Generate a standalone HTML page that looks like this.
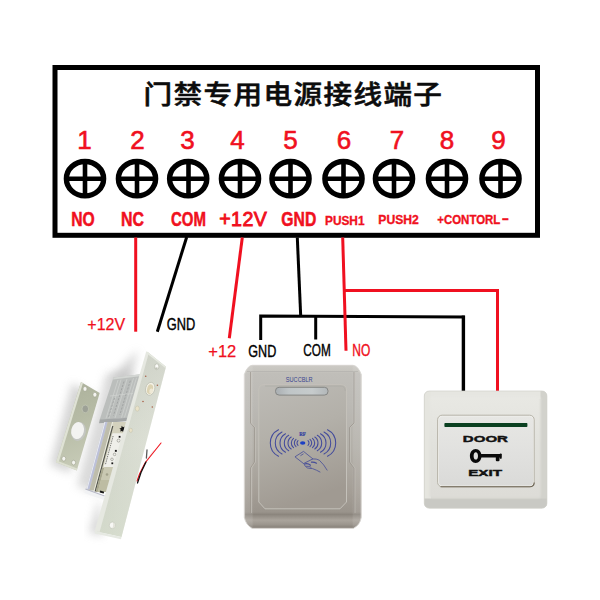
<!DOCTYPE html>
<html lang="zh">
<head>
<meta charset="utf-8">
<title>门禁专用电源接线端子</title>
<style>
html,body{margin:0;padding:0;background:#fff;}
body{width:600px;height:600px;overflow:hidden;}
svg{display:block;}
.lat{font-family:"Liberation Sans",sans-serif;}
.cjk{font-family:"Liberation Sans","Noto Sans CJK SC",sans-serif;}
</style>
</head>
<body>
<svg width="600" height="600" viewBox="0 0 600 600">
<rect width="600" height="600" fill="#fff"/>

<!-- ===== terminal box ===== -->
<g id="box">
<rect x="55" y="67.5" width="482.5" height="167.8" fill="#fff" stroke="#000" stroke-width="5"/>
<text class="cjk" transform="translate(143.6 104.2) scale(1.1 1)" font-size="26" font-weight="500" letter-spacing="1.25" fill="#0c0c0c" stroke="#0c0c0c" stroke-width="0.55">门禁专用电源接线端子</text>
</g>

<!-- digits -->
<g class="lat" font-size="26" fill="#f01020" text-anchor="middle" stroke="#f01020" stroke-width="0.6">
<text x="84.5" y="148.6">1</text>
<text x="137.5" y="148.6">2</text>
<text x="187.5" y="148.6">3</text>
<text x="237.5" y="148.6">4</text>
<text x="290.5" y="148.6">5</text>
<text x="344" y="148.6">6</text>
<text x="397" y="148.6">7</text>
<text x="447" y="148.6">8</text>
<text x="498.5" y="148.6">9</text>
</g>

<!-- screws -->
<g id="screws" fill="none" stroke="#000">
<g stroke-width="5.4">
<ellipse cx="85" cy="178.7" rx="18.6" ry="17.2"/>
<ellipse cx="137" cy="178.7" rx="18.6" ry="17.2"/>
<ellipse cx="188.2" cy="178.7" rx="18.6" ry="17.2"/>
<ellipse cx="240" cy="178.7" rx="18.6" ry="17.2"/>
<ellipse cx="290.5" cy="178.7" rx="18.6" ry="17.2"/>
<ellipse cx="343.5" cy="178.7" rx="18.6" ry="17.2"/>
<ellipse cx="394" cy="178.7" rx="18.6" ry="17.2"/>
<ellipse cx="447" cy="178.7" rx="18.6" ry="17.2"/>
<ellipse cx="500.5" cy="178.7" rx="18.6" ry="17.2"/>
</g>
<g stroke-width="4.6">
<path d="M67 178.7H103M85 161.7V195.7"/>
<path d="M119 178.7H155M137 161.7V195.7"/>
<path d="M170.5 178.7H206.5M188.5 161.7V195.7"/>
<path d="M222 178.7H258M240 161.7V195.7"/>
<path d="M272.5 178.7H308.5M290.5 161.7V195.7"/>
<path d="M325.5 178.7H361.5M343.5 161.7V195.7"/>
<path d="M376 178.7H412M394 161.7V195.7"/>
<path d="M429 178.7H465M447 161.7V195.7"/>
<path d="M482.5 178.7H518.5M500.5 161.7V195.7"/>
</g></g>

<!-- terminal labels -->
<g class="lat" font-weight="700" fill="#f01020" lengthAdjust="spacingAndGlyphs">
<text x="71.3" y="225.6" font-size="19.3" stroke="#f01020" stroke-width="0.5" textLength="23.5" lengthAdjust="spacingAndGlyphs">NO</text>
<text x="121" y="225.6" font-size="19.3" stroke="#f01020" stroke-width="0.5" textLength="23" lengthAdjust="spacingAndGlyphs">NC</text>
<text x="171" y="225.6" font-size="19.3" stroke="#f01020" stroke-width="0.5" textLength="35" lengthAdjust="spacingAndGlyphs">COM</text>
<text x="219.2" y="226" font-size="19.6" font-weight="400" stroke="#f01020" stroke-width="0.9" textLength="47.6" lengthAdjust="spacing">+12V</text>
<text x="281.3" y="225.6" font-size="19.3" stroke="#f01020" stroke-width="0.5" textLength="35" lengthAdjust="spacingAndGlyphs">GND</text>
<text x="325" y="224.8" font-size="12.2" stroke="#f01020" stroke-width="0.35" textLength="39.5" lengthAdjust="spacingAndGlyphs">PUSH1</text>
<text x="378.3" y="224" font-size="12.2" stroke="#f01020" stroke-width="0.35" textLength="40.5" lengthAdjust="spacingAndGlyphs">PUSH2</text>
<text x="437.3" y="223.6" font-size="12.2" stroke="#f01020" stroke-width="0.35" textLength="63" lengthAdjust="spacingAndGlyphs">+CONTORL</text>
<text x="501.8" y="222.8" font-size="12.2" stroke="#f01020" stroke-width="0.35" textLength="7.2" lengthAdjust="spacingAndGlyphs">-</text>
</g>

<!-- wires -->
<g id="wires" fill="none" stroke-width="3" stroke-linecap="butt">
<path d="M135.700 237.500V331.700" stroke="#f01020"/>
<path d="M186.700 237L157.300 331.700" stroke="#000"/>
<path d="M242.300 237.500L229.300 338.300" stroke="#f01020"/>
<path d="M297.300 237.500L300.700 316" stroke="#000"/>
<path d="M260.700 340V315.900L464.800 317.100" stroke="#000"/>
<path d="M315.700 316.200V339.500" stroke="#000"/>
<path d="M463.400 315.600V391.500" stroke="#000" stroke-width="3.4"/>
<path d="M342.700 237.500L346 350.700" stroke="#f01020"/>
<path d="M344.500 290.400H497.500V391.500" stroke="#f01020"/>
</g>

<!-- wire labels -->
<g class="lat" lengthAdjust="spacingAndGlyphs">
<text x="87.300" y="329.500" font-size="16.800" fill="#f01020" stroke="#f01020" stroke-width="0.25" textLength="37.800" lengthAdjust="spacingAndGlyphs">+12V</text>
<text x="166.700" y="329.500" font-size="16.800" fill="#000" stroke="#000" stroke-width="0.4" textLength="28.500" lengthAdjust="spacingAndGlyphs">GND</text>
<text x="208.300" y="357.300" font-size="16.800" fill="#f01020" stroke="#f01020" stroke-width="0.25" textLength="28" lengthAdjust="spacingAndGlyphs">+12</text>
<text x="248.300" y="356.700" font-size="16.800" fill="#000" stroke="#000" stroke-width="0.4" textLength="28" lengthAdjust="spacingAndGlyphs">GND</text>
<text x="303.300" y="356" font-size="16.800" fill="#000" stroke="#000" stroke-width="0.4" textLength="27.500" lengthAdjust="spacingAndGlyphs">COM</text>
<text x="352.300" y="356" font-size="16.800" fill="#f01020" stroke="#f01020" stroke-width="0.4" textLength="18" lengthAdjust="spacingAndGlyphs">NO</text>
</g>

<!-- DEVICES -->
<!-- ===== electric bolt lock ===== -->
<defs>
<filter id="lkBlur4" x="-30%" y="-30%" width="160%" height="160%"><feGaussianBlur stdDeviation="4"/></filter>
<filter id="lkBlur2" x="-30%" y="-30%" width="160%" height="160%"><feGaussianBlur stdDeviation="2"/></filter>
<filter id="lkBlur05" x="-10%" y="-10%" width="120%" height="120%"><feGaussianBlur stdDeviation="0.5"/></filter>
<linearGradient id="lkFace" x1="0" y1="0" x2="1" y2="0.250">
<stop offset="0" stop-color="#cfd3c7"/>
<stop offset="0.5" stop-color="#d9ddd2"/>
<stop offset="1" stop-color="#e1e4da"/>
</linearGradient>
<linearGradient id="lkFaceV" x1="0" y1="0" x2="0" y2="1">
<stop offset="0" stop-color="#bfc2b8" stop-opacity="0.45"/>
<stop offset="0.5" stop-color="#c8ccc0" stop-opacity="0.1"/>
<stop offset="1" stop-color="#d3dbc9" stop-opacity="0.5"/>
</linearGradient>
<linearGradient id="lkStrike" x1="0" y1="0" x2="0.200" y2="1">
<stop offset="0" stop-color="#abb09a"/>
<stop offset="0.500" stop-color="#b6bba5"/>
<stop offset="1" stop-color="#c6cab6"/>
</linearGradient>
<linearGradient id="lkChrome" x1="0" y1="0" x2="1" y2="0.250">
<stop offset="0" stop-color="#d8dbe0"/>
<stop offset="0.250" stop-color="#f4f5f6"/>
<stop offset="0.450" stop-color="#9a9c98"/>
<stop offset="0.600" stop-color="#d6d4c4"/>
<stop offset="1" stop-color="#c2c0ae"/>
</linearGradient>
</defs>
<g id="lock">
<!-- soft shadows -->
<path d="M78 380L56 462L76 470L98 392Z" transform="translate(-6 3)" fill="#c4c4c4" opacity="0.700" filter="url(#lkBlur4)"/>
<path d="M113 378L140 374L104 498L84 490Z" transform="translate(-7 -4)" fill="#c4c4c4" opacity="0.620" filter="url(#lkBlur4)"/>
<path d="M106 497L96 533L110 536Z" transform="translate(-7 0)" fill="#c6c6c6" opacity="0.700" filter="url(#lkBlur4)"/>
<path d="M146 352L136 392L118 380Z" transform="translate(-8 -2)" fill="#c2c2c2" opacity="0.700" filter="url(#lkBlur4)"/>
<!-- strike plate -->
<path d="M81 381.900L99.700 393L76.800 470.400L56 462.300Z" fill="url(#lkStrike)"/>
<path d="M81 381.900L83 383L58.300 463.200L56 462.300Z" fill="#dfe2d5"/>
<path d="M56 462.300L76.800 470.400L77.300 468.600L56.600 460.600Z" fill="#dcdfd0"/>
<g fill="#f4f4f0" stroke="#9fa38f" stroke-width="0.600">
<ellipse cx="85" cy="388.900" rx="2" ry="2.400"/>
<ellipse cx="94.900" cy="394.700" rx="2" ry="2.400"/>
<ellipse cx="63.800" cy="458.700" rx="2" ry="2.400"/>
<ellipse cx="73.600" cy="462.600" rx="2" ry="2.400"/>
</g>
<ellipse cx="85.300" cy="408.900" rx="3.300" ry="3.900" fill="#9da196" stroke="#c6cab8" stroke-width="0.700"/>
<ellipse cx="78.500" cy="431.400" rx="7.300" ry="9.600" transform="rotate(12 78.500 431.400)" fill="#c4c6c2"/>
<ellipse cx="77.600" cy="430.600" rx="6.300" ry="8.600" transform="rotate(12 77.600 430.600)" fill="#f3f3f1"/>
<!-- lock body -->
<path d="M113.500 377.500L140.500 374.300L128 418L99.600 420Z" fill="#bbbebc"/>
<path d="M113.500 377.500L140.500 374.300L140 376.200L113 379.500Z" fill="#d3d6d3"/>
<g stroke="#d4d7d4" stroke-width="0.700" fill="none" opacity="0.900">
<path d="M118 380L106 418.500"/><path d="M121 379.600L109 418.300"/><path d="M127 379L115 418"/><path d="M133.500 378.200L121.500 417.600"/><path d="M136.500 377.800L124.500 417.400"/>
<path d="M110 396L133 393.500"/>
</g>
<g stroke="#8f9292" stroke-width="0.800" fill="none" opacity="0.750" stroke-dasharray="2.200 1.300">
<path d="M124 381.500L113.500 415.500"/><path d="M130.300 380.700L119.800 414.900"/><path d="M114.500 398L108.500 417"/>
</g>
<path d="M99.800 419.600L128 417.800L127 421.200L99 423.200Z" fill="#a4a7a7"/>
<!-- chrome bolt housing -->
<path d="M104.5 422L130.5 422L112.3 490L86.3 490Z" fill="#d3d1bd"/>
<path d="M104.5 422L107.7 422L89.6 489.5L86.4 489.5Z" fill="#bcc0d8"/>
<path d="M104.5 422L105.4 422L87.3 489.5L86.4 489.5Z" fill="#eceef5"/>
<path d="M107.7 422L112.1 422L93.8 490.5L89.4 490.5Z" fill="#bebdac"/>
<path d="M112.1 422L113.2 422L94.7 491L93.6 491Z" fill="#e9e9de"/>
<path d="M112.2 426L113.4 426L95.8 491.5L94.6 491.5Z" fill="#51534c"/>
<path d="M102.1 468L104.2 468L97.7 492L95.6 492Z" fill="#a9a88f"/>
<path d="M112.5 433.3L127.5 433.3L118.5 467L103.5 467Z" fill="#efefea"/>
<path d="M113.1 436L105.3 465" fill="none" stroke="#6d6d66" stroke-width="0.9" stroke-dasharray="1.4 0.9"/>
<path d="M121.700 425.800l1.300 1.500l1.800 -0.700l-0.600 1.900l1.500 1.200l-1.900 0.500l-0.300 2l-1.500 -1.300l-1.900 0.700l0.700 -1.800l-1.400 -1.400l1.900 -0.300z" fill="#141414"/>
<g fill="#1a1a1a"><rect x="118.700" y="435.900" width="1.800" height="1.800"/><rect x="114.900" y="449.900" width="1.900" height="1.900"/><rect x="111.400" y="462.400" width="1.800" height="1.800"/></g>
<g fill="none" stroke="#77776f" stroke-width="0.500"><circle cx="118.600" cy="440.600" r="1.500"/><circle cx="114.600" cy="454.400" r="1.300"/><circle cx="112" cy="459.300" r="1.300"/></g>
<path d="M104.5 467L118.5 467L115.0 480L101.0 480Z" fill="#c9c8b2"/>
<path d="M101.0 480L115.0 480L111.7 492L97.7 492Z" fill="#bdbca3"/>
<circle cx="107" cy="474.500" r="1.300" fill="#a3a28c"/>
<path d="M85.200 489.500L104.500 496.500L103.600 500L84.400 493Z" fill="#f1f2f4"/>
<path d="M85.200 489.500L104.500 496.500L104.700 495.500L85.500 488.500Z" fill="#b6b8c6"/>
<path d="M100.200 490.600L104.200 491.800L103.700 493.600L99.700 492.400Z" fill="#161616"/>
<!-- wires -->
<g fill="none" stroke-linecap="round">
<path d="M153.500 451L147 460" stroke="#eeeeee" stroke-width="1.300"/>
<path d="M147 450L146.400 458" stroke="#5a5a5a" stroke-width="1.300"/>
<path d="M161 443L145 463L139.500 474L137 481" stroke="#f0141e" stroke-width="1.100"/>
<path d="M146 462L141 472.500L137.500 483" stroke="#111" stroke-width="1.300"/>
</g>
<!-- face plate -->
<path d="M147.300 351.700L166 366.700L121.500 537L97 531.500Z" fill="url(#lkFace)"/>
<path d="M147.300 351.700L166 366.700L121.500 537L97 531.500Z" fill="url(#lkFaceV)"/>
<path d="M146.300 351.300L148.800 352.900L99.600 532.100L94.600 531.200Z" fill="#e6e8e1"/>
<path d="M147.300 351.700L166 366.700L165.600 368.300L146.900 353.400Z" fill="#e6e9e0"/>
<path d="M95 531.200L121.500 537L121 539.200L94.800 533.500Z" fill="#e6e9e2"/>
<!-- face plate details -->
<ellipse cx="156.700" cy="366.800" rx="2.300" ry="2.900" fill="#e9e9e4" stroke="#b4b8aa" stroke-width="0.600"/>
<ellipse cx="156.900" cy="365.900" rx="1.300" ry="1.400" fill="#fbfbf8"/>
<ellipse cx="156.300" cy="368.400" rx="1.200" ry="1" fill="#bfc2b6"/>
<ellipse cx="150.200" cy="388.800" rx="4.600" ry="6.600" transform="rotate(14 150.200 388.800)" fill="#f3f1e6" stroke="#bfc2b4" stroke-width="0.800"/>
<ellipse cx="150" cy="389.200" rx="2.900" ry="4.900" transform="rotate(14 150 389.200)" fill="#dcd3b3"/>
<ellipse cx="151.200" cy="391" rx="1.900" ry="2.600" transform="rotate(14 151.200 391)" fill="#efe9d6"/>
<g fill="#a8624a">
<circle cx="145.700" cy="376.300" r="0.800"/><circle cx="157.400" cy="385.300" r="0.800"/><circle cx="143" cy="401.500" r="0.800"/><circle cx="152.300" cy="407" r="0.800"/>
</g>
<g fill="#e9e2c8" stroke="#c0bfa8" stroke-width="0.500">
<ellipse cx="137.300" cy="408.600" rx="2" ry="2.600"/>
<ellipse cx="130.800" cy="430.300" rx="1.600" ry="2.100"/>
</g>
<ellipse cx="112.300" cy="525.300" rx="3" ry="3.300" fill="#f8f8f5" stroke="#bcc1b2" stroke-width="0.600"/>
<path d="M112.800 522.300Q115.300 523.300 115.200 526.500Q114 528.600 111.800 528.500Q114 526 112.800 522.300Z" fill="#e3e3da"/>
</g>
<!-- /lock -->
<!-- ===== card reader ===== -->
<defs>
<linearGradient id="rdBody" x1="0" y1="0" x2="0" y2="1">
<stop offset="0" stop-color="#cccac5"/>
<stop offset="0.035" stop-color="#c6c4be"/>
<stop offset="0.05" stop-color="#c0beb9"/>
<stop offset="0.25" stop-color="#bbb9b4"/>
<stop offset="0.5" stop-color="#b3b0a9"/>
<stop offset="0.78" stop-color="#a49e96"/>
<stop offset="0.9" stop-color="#9a948c"/>
<stop offset="0.915" stop-color="#8b857d"/>
<stop offset="0.95" stop-color="#aaa49c"/>
<stop offset="0.975" stop-color="#9d978f"/>
<stop offset="1" stop-color="#847e76"/>
</linearGradient>
<linearGradient id="rdSide" x1="0" y1="0" x2="1" y2="0">
<stop offset="0" stop-color="#ffffff" stop-opacity="0.28"/>
<stop offset="0.012" stop-color="#ffffff" stop-opacity="0.12"/>
<stop offset="0.065" stop-color="#ffffff" stop-opacity="0.1"/>
<stop offset="0.08" stop-color="#ffffff" stop-opacity="0"/>
<stop offset="0.92" stop-color="#ffffff" stop-opacity="0"/>
<stop offset="0.935" stop-color="#ffffff" stop-opacity="0.09"/>
<stop offset="0.985" stop-color="#ffffff" stop-opacity="0.1"/>
<stop offset="1" stop-color="#ffffff" stop-opacity="0.25"/>
</linearGradient>
<linearGradient id="rdPanel" x1="0" y1="0" x2="0.25" y2="1">
<stop offset="0" stop-color="#bdbbb6"/>
<stop offset="0.45" stop-color="#b3b0a9"/>
<stop offset="1" stop-color="#a09a92"/>
</linearGradient>
<linearGradient id="rdLed" x1="0" y1="0" x2="1" y2="0">
<stop offset="0" stop-color="#a9aeb1"/>
<stop offset="0.25" stop-color="#bfc5c7"/>
<stop offset="0.7" stop-color="#c6cbcc"/>
<stop offset="1" stop-color="#b2b7b9"/>
</linearGradient>
<filter id="soft" x="-5%" y="-5%" width="110%" height="110%"><feGaussianBlur stdDeviation="0.6"/></filter>
</defs>
<g id="reader">
<path d="M252 365.300H353Q358 365.800 361.300 374.500V517.500Q360 525 353.500 528.300H252Q246 525 244.300 517.500V374.500Q247.500 365.800 252 365.300Z" fill="url(#rdBody)" stroke="#d4d2cd" stroke-width="0.8"/>
<path d="M252 365.300H353Q358 365.800 361.300 374.500V517.500Q360 525 353.500 528.300H252Q246 525 244.300 517.500V374.500Q247.500 365.800 252 365.300Z" fill="url(#rdSide)"/>
<!-- bottom band -->
<!-- side ridges -->
<path d="M250.500 372V423L254.500 427.500V462L250.500 468V513" fill="none" stroke="#9a958d" stroke-width="0.9" opacity="0.8"/>
<path d="M251.500 372V423L255.500 427.500V462L251.500 468V513" fill="none" stroke="#c9c6bf" stroke-width="0.8" opacity="0.7"/>
<path d="M354 372V423L349.500 427.500V462L354 468V513" fill="none" stroke="#98938b" stroke-width="0.9" opacity="0.8"/>
<path d="M355 372V423L350.500 427.500V462L355 468V513" fill="none" stroke="#c6c3bc" stroke-width="0.8" opacity="0.7"/>
<path d="M247 371.500H358" fill="none" stroke="#aeada8" stroke-width="0.8" opacity="0.7"/>
<!-- inner panel -->
<path d="M264 384.700H341Q346.500 384.700 346.500 390V502L340 508.800H265L258.800 502V390Q258.800 384.700 264 384.700Z" fill="url(#rdPanel)" stroke="#c4c1ba" stroke-width="1"/>
<path d="M265 386H340.500Q345.200 386 345.200 391" fill="none" stroke="#a9a8a3" stroke-width="0.8" opacity="0.7"/>
<!-- LED window -->
<rect x="275.500" y="387.300" width="52.500" height="7.800" rx="3.600" fill="url(#rdLed)" stroke="#858684" stroke-width="1"/>
<!-- brand -->
<text class="lat" x="285.800" y="381.700" font-size="7.600" fill="#3a4590" textLength="26.800" lengthAdjust="spacingAndGlyphs">SUCCBLR</text>
<!-- RF icon -->
<g fill="none" stroke="#434b9c" stroke-width="1.05" stroke-linecap="round">
<path d="M278.50 429.70A14.89 14.89 0 0 0 278.50 456.30"/>
<path d="M327.50 429.70A14.89 14.89 0 0 1 327.50 456.30"/>
<path d="M282.00 432.00A12.38 12.38 0 0 0 282.00 454.00"/>
<path d="M324.00 432.00A12.38 12.38 0 0 1 324.00 454.00"/>
<path d="M285.50 433.70A10.61 10.61 0 0 0 285.50 452.30"/>
<path d="M320.50 433.70A10.61 10.61 0 0 1 320.50 452.30"/>
<path d="M288.70 435.30A8.94 8.94 0 0 0 288.70 450.70"/>
<path d="M317.30 435.30A8.94 8.94 0 0 1 317.30 450.70"/>
<path d="M291.20 437.00A7.23 7.23 0 0 0 291.20 449.00"/>
<path d="M314.80 437.00A7.23 7.23 0 0 1 314.80 449.00"/>
<path d="M293.50 438.30A6.12 6.12 0 0 0 293.50 447.70"/>
<path d="M312.50 438.30A6.12 6.12 0 0 1 312.50 447.70"/>
<path d="M296.00 439.40A4.66 4.66 0 0 0 296.00 446.60"/>
<path d="M310.00 439.40A4.66 4.66 0 0 1 310.00 446.60"/>
<path d="M298.00 440.60A3.38 3.38 0 0 0 298.00 445.40"/>
<path d="M308.00 440.60A3.38 3.38 0 0 1 308.00 445.40"/>
</g>
<ellipse cx="302.700" cy="443" rx="2.700" ry="1.700" fill="#1c3fc4"/>
<text x="299.300" y="435.600" font-family="'Liberation Serif',serif" font-weight="700" font-size="5.600" fill="#3040a0" stroke="#3040a0" stroke-width="0.2" textLength="6.600" lengthAdjust="spacingAndGlyphs">RF</text>
<!-- card + hand -->
<g fill="none" stroke="#454c98" stroke-width="0.8" stroke-linejoin="round" stroke-linecap="round">
<path d="M295.300 456.600L303.500 451.400L312.900 458.900L303.900 463.400Z"/>
<path d="M300.800 455.500L303.200 454"/>
<path d="M312.900 458.900Q316.500 458.600 319.300 460.200Q324 464.500 327.100 470.100"/>
<path d="M303.900 463.400Q304.500 466.500 307.300 467.900Q310 468.600 312.500 468.600Q316.500 470 320 472"/>
<path d="M305.500 463.800Q308 463.200 310.500 465.200M311.500 462.200Q314 461.800 316.500 463.200" stroke-width="1.2"/>
<path d="M306.500 466.200Q309 466 311 467.200"/>
</g>
</g>
<!-- /reader -->
<!-- ===== exit button ===== -->
<defs>
<linearGradient id="exFace" x1="0" y1="0" x2="0" y2="1">
<stop offset="0" stop-color="#e8e8e3"/>
<stop offset="0.5" stop-color="#e1e1dc"/>
<stop offset="1" stop-color="#dddcd7"/>
</linearGradient>
<linearGradient id="exBtn" x1="0" y1="0" x2="0" y2="1">
<stop offset="0" stop-color="#e7e7e4"/>
<stop offset="0.5" stop-color="#e1e1df"/>
<stop offset="1" stop-color="#dadad8"/>
</linearGradient>
<filter id="exBlur" x="-5%" y="-5%" width="110%" height="110%"><feGaussianBlur stdDeviation="1.1"/></filter>
<clipPath id="exClip"><rect x="424.300" y="391" width="122.600" height="117.200" rx="5"/></clipPath>
</defs>
<g id="exitbtn">
<rect x="424.300" y="391" width="122.600" height="117.200" rx="5" fill="#d6d6d0"/>
<g clip-path="url(#exClip)">
<path d="M424 391H547V399H424Z" fill="#e6e6e1"/>
<path d="M424 391H431V508H424Z" fill="#e5e5df"/>
<path d="M540.500 391H547V508H540.500Z" fill="#d2d2cc"/>
<path d="M424 498.500H547V508.500H424Z" fill="#c9c9c4"/>
<rect x="429.500" y="396.500" width="111" height="101.500" rx="3" fill="url(#exFace)" filter="url(#exBlur)"/>
<rect x="431.500" y="398.500" width="107" height="97.500" rx="2" fill="url(#exFace)"/>
</g>
<rect x="424.300" y="391" width="122.600" height="117.200" rx="5" fill="none" stroke="#d0d0ca" stroke-width="0.700"/>
<!-- push plate -->
<rect x="437.600" y="415.200" width="96.600" height="71.600" rx="4.500" fill="#eeeeea" stroke="#aaa699" stroke-width="0.800"/>
<path d="M440.500 486.700H530Q534 486.700 534.300 482.500" fill="none" stroke="#6f6656" stroke-width="1.100"/>
<rect x="439" y="416.800" width="94" height="68.800" rx="3.500" fill="url(#exBtn)"/>
<!-- green indicator -->
<rect x="444.400" y="423" width="83" height="4.100" rx="0.800" fill="#0a4020"/>
<!-- texts -->
<text class="lat" x="462.800" y="442" font-size="9.800" font-weight="700" fill="#111" stroke="#111" stroke-width="0.450" textLength="45.200" lengthAdjust="spacingAndGlyphs">DOOR</text>
<text class="lat" x="468.200" y="475.900" font-size="9.800" font-weight="700" fill="#111" stroke="#111" stroke-width="0.450" textLength="33.800" lengthAdjust="spacingAndGlyphs">EXIT</text>
<!-- key -->
<g fill="#0a0a0a">
<path fill-rule="evenodd" d="M475.700 448.900C479 448.900 481.500 452 481.500 455.900C481.500 459.800 479 462.900 475.700 462.900C472.400 462.900 469.900 459.800 469.900 455.900C469.900 452 472.400 448.900 475.700 448.900ZM475.800 452.200C474.500 452.200 473.600 453.800 473.600 455.900C473.600 458 474.500 459.600 475.800 459.600C477.100 459.600 478 458 478 455.900C478 453.800 477.100 452.200 475.800 452.200Z"/>
<rect x="480.500" y="454" width="20.800" height="3.600" rx="0.800"/>
<rect x="495.800" y="456" width="3.700" height="5.300" rx="1"/>
<rect x="499.700" y="453.400" width="2" height="5.400" rx="0.900"/>
</g>
</g>
<!-- /exit -->


</svg>
</body>
</html>
